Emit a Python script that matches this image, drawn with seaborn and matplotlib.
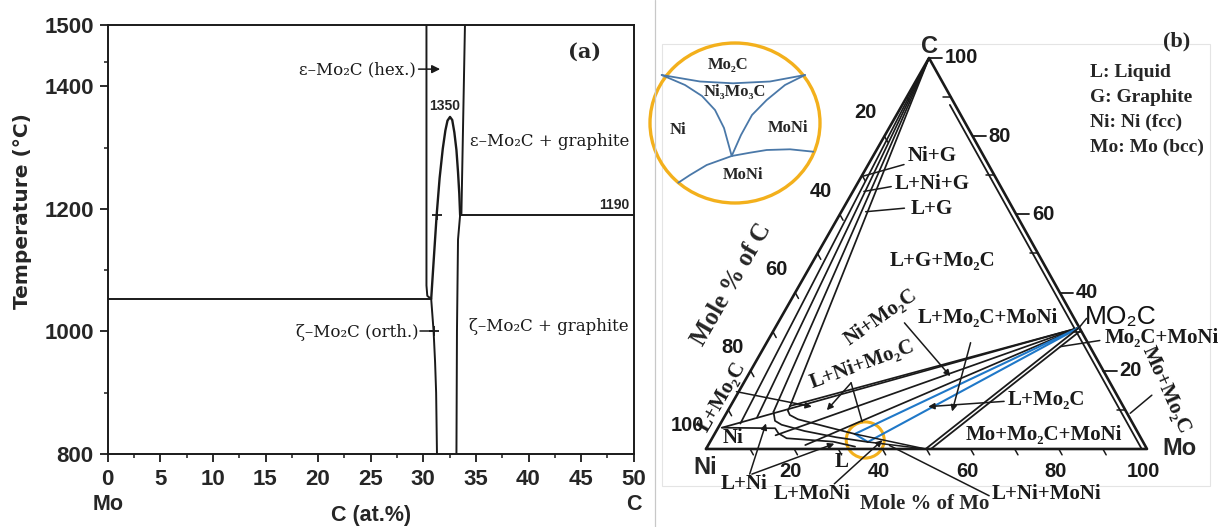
import numpy as np
import matplotlib
matplotlib.use("Agg")
import matplotlib.pyplot as plt
from matplotlib.patches import Ellipse, Rectangle
from matplotlib.lines import Line2D
import seaborn as sns

sns.set_theme(style="white")
plt.rcParams["font.family"] = ["Liberation Sans", "DejaVu Sans"]
plt.rcParams["axes.edgecolor"] = "black"

SANS = ["Liberation Sans", "DejaVu Sans"]
SERIF_A = ["DejaVu Serif"]
SERIF_B = ["Liberation Serif", "DejaVu Serif"]

# ---------------- (a) Mo–C binary section ----------------
C_TICKS = list(range(0, 51, 5))
C_MINOR = [2.5 + 5 * i for i in range(10)]
T_TICKS = [800, 1000, 1200, 1400, 1500]
T_MINOR = [900, 1100, 1300, 1440]

T_EUTECTOID = 1053
T_PERITECTOID = 1190
T_PEAK = 1350

EPS_LEFT_C = [30.3, 30.3, 30.38, 30.75]
EPS_LEFT_T = [1500, 1075, 1058, 1053]
EUTECTOID_C = [0.0, 30.75]
BELL_C = [30.75, 30.95, 31.27, 31.55, 31.85, 32.1, 32.3, 32.54,
          32.75, 32.95, 33.15, 33.3, 33.42, 33.5]
BELL_T = [1053, 1106, 1190, 1250, 1298, 1328, 1344, T_PEAK,
          1345, 1325, 1296, 1260, 1225, 1190]
ZETA_LEFT_C = [30.75, 30.98, 31.12, 31.22, 31.3]
ZETA_LEFT_T = [1053, 1000, 950, 900, 800]
ZETA_RIGHT_C = [33.5, 33.3, 33.2, 33.15]
ZETA_RIGHT_T = [1190, 1150, 1000, 800]
EPS_RIGHT_C = [33.62, 33.96]
EPS_RIGHT_T = [1190, 1500]
PERITECTOID_C = [33.5, 50.0]

# ---------------- (b) Ni–Mo–C isothermal section (mol % Mo, mol % C) ----------------
MO2C_MO, MO2C_C = 68.9, 31.0
MO2C_B_MO, MO2C_B_C = 69.6, 30.2
APEX_TIE_MO = [4.5, 7.5, 10.5, 13.5]
APEX_TIE_C = [6.5, 8.0, 9.5, 11.0]
MO2C_TIE_MO = [13.5, 1.0, 14.0, 22.0]
MO2C_TIE_C = [11.0, 5.5, 3.5, 1.0]
BLUE_TIE_MO = [31.8, 35.8]
BLUE_TIE_C = [3.84, 1.79]
MONI_MO = [49.8, 51.0]
LIQ_UPPER_MO = [13.5, 13.6, 14.6, 17.0, 24.0, 31.8]
LIQ_UPPER_C = [11.0, 9.8, 8.7, 7.6, 5.8, 3.84]
LIQ_LOWER_MO = [10.5, 12.0, 14.0, 20.0, 28.0, 35.8]
LIQ_LOWER_C = [9.5, 7.2, 6.2, 4.6, 3.0, 1.79]
NI_SOLVUS_MO = [0.8, 13.0, 14.4, 16.9, 27.9, 33.5]
NI_SOLVUS_C = [5.45, 5.3, 4.0, 2.74, 1.87, 0.6]
STRIP_NI = 1.2
TERN_MAJOR = [20, 40, 60, 80, 100]
TERN_MINOR = [10, 30, 50, 70, 90]

# enlarged view of the Ni3Mo3C pocket (local units)
INSET_TOP_X = [-73.3, -35, -2, 35, 70]
INSET_TOP_Y = [48, 41.5, 39.7, 41.5, 48]
INSET_LEFT_X = [-73.3, -50, -33, -20, -11, -3.3]
INSET_LEFT_Y = [48, 38, 27, 13, -5, -33]
INSET_RIGHT_X = [70, 50, 31.7, 17, 6, -3.3]
INSET_RIGHT_Y = [48, 38, 23, 8, -12, -33]
INSET_BL_X = [-3.3, -28.3, -45, -56.7]
INSET_BL_Y = [-33, -42, -52, -59.7]
INSET_BR_X = [-3.3, 15, 31.7, 55, 78.3]
INSET_BR_Y = [-33, -29.7, -27, -26.3, -28.7]

BLUE = "#1f78c8"
INSET_BLUE = "#4a78a8"
ORANGE = "#f3b01c"

W, H = 1228, 527
fig = plt.figure(figsize=(W / 100, H / 100), dpi=100)


def axes_px(x0, y0, x1, y1):
    return fig.add_axes([x0 / W, 1 - y1 / H, (x1 - x0) / W, (y1 - y0) / H])


def draw(ax, xs, ys, color="k", lw=1.3, **kw):
    sns.lineplot(x=list(xs), y=list(ys), sort=False, estimator=None, ax=ax,
                 color=color, linewidth=lw, **kw)


# ======================= panel (a) =======================
axA = axes_px(107.7, 25, 633.7, 454)
draw(axA, EPS_LEFT_C, EPS_LEFT_T, lw=1.4)
draw(axA, EUTECTOID_C, [T_EUTECTOID] * 2, lw=1.4)
draw(axA, BELL_C, BELL_T, lw=1.7)
draw(axA, ZETA_LEFT_C, ZETA_LEFT_T, lw=1.4)
draw(axA, ZETA_RIGHT_C, ZETA_RIGHT_T, lw=1.4)
draw(axA, EPS_RIGHT_C, EPS_RIGHT_T, lw=1.4)
draw(axA, PERITECTOID_C, [T_PERITECTOID] * 2, lw=1.4)
axA.plot([BELL_C[2]], [T_PERITECTOID], marker="+", color="k", ms=7, mew=1.3)
axA.plot([ZETA_LEFT_C[1]], [1000], marker="+", color="k", ms=7, mew=1.3)

axA.set_xlim(0, 50)
axA.set_ylim(800, 1500)
axA.set_xticks(C_TICKS)
axA.set_xticks(C_MINOR, minor=True)
axA.set_yticks(T_TICKS)
axA.set_yticks(T_MINOR, minor=True)
axA.set_xlabel("")
axA.set_ylabel("")
axA.tick_params(which="major", direction="out", length=5.5, width=1.3, color="k",
                labelsize=16, bottom=True, left=True)
axA.tick_params(which="minor", direction="out", length=3, width=1.1, color="k",
                bottom=True, left=True)
axA.tick_params(axis="x", which="major", pad=5.5)
axA.tick_params(axis="y", which="major", pad=4.5)
for lab in axA.get_xticklabels() + axA.get_yticklabels():
    lab.set_fontweight("bold")
for s in axA.spines.values():
    s.set_linewidth(1.4)
    s.set_color("k")

txtA = dict(family=SERIF_A, fontsize=12, color="k", va="center")
axA.text(29.3, 1427, "ε–Mo₂C (hex.)", ha="right", **txtA)
axA.annotate("", xy=(31.6, 1428), xytext=(29.55, 1428),
             arrowprops=dict(arrowstyle="-|>", color="k", lw=1.1,
                             mutation_scale=12, shrinkA=0, shrinkB=0))
axA.text(29.55, 998, "ζ–Mo₂C (orth.)", ha="right", **txtA)
draw(axA, [29.65, ZETA_LEFT_C[1]], [1000, 1000], lw=1.1)
axA.text(34.4, 1310, "ε–Mo₂C + graphite", ha="left", **txtA)
axA.text(34.3, 1008, "ζ–Mo₂C + graphite", ha="left", **txtA)
axA.text(45.3, 1457, "(a)", ha="center", va="center", family=SERIF_A,
         fontsize=15, fontweight="bold")
axA.text(32.05, 1368, f"{T_PEAK}", ha="center", va="center", family=SANS,
         fontsize=10, fontweight="bold")
axA.text(49.6, 1206, f"{T_PERITECTOID}", ha="right", va="center", family=SANS,
         fontsize=10, fontweight="bold")

fig.text(107.7 / W, 1 - 505 / H, "Mo", ha="center", va="center", family=SANS,
         fontsize=15.5, fontweight="bold")
fig.text(633.7 / W, 1 - 505 / H, "C", ha="center", va="center", family=SANS,
         fontsize=15.5, fontweight="bold")
fig.text(370.7 / W, 1 - 515 / H, "C (at.%)", ha="center", va="center", family=SANS,
         fontsize=15.5, fontweight="bold")
fig.text(23 / W, 1 - 211.5 / H, "Temperature (°C)", ha="center", va="center",
         rotation=90, family=["DejaVu Sans"], fontsize=14.5, fontweight="bold")

fig.add_artist(Line2D([655 / W, 655 / W], [0, 1], color="#c8c8c8", lw=0.9))

# ======================= panel (b) =======================
APEX_SHIFT = 0.5057
APEX_H = 0.8866


def tern(mo, c):
    mo = np.asarray(mo, dtype=float)
    c = np.asarray(c, dtype=float)
    return mo + c * APEX_SHIFT, c * APEX_H


axT = axes_px(656, 0, 1228, 527)


def tline(mo, c, **kw):
    x, y = tern(mo, c)
    draw(axT, x, y, **kw)


# faint frame
axT.add_patch(Rectangle((-10.0, -8.4), 124.4, 100.3, fill=False, ec="#e4e4e4",
                        lw=0.8, clip_on=False))

# outline and the narrow Mo+Mo2C strip along the Mo–C edge
tline([0, 100, 0, 0], [0, 0, 100, 0], lw=1.9)
tline([100 - STRIP_NI - 88, 100 - STRIP_NI], [88, 0], lw=1.3)

# tie lines from graphite
for mo, c in zip(APEX_TIE_MO, APEX_TIE_C):
    tline([0, mo], [100, c], lw=1.25)
# tie lines from Mo2C
for mo, c in zip(MO2C_TIE_MO, MO2C_TIE_C):
    tline([MO2C_MO, mo], [MO2C_C, c], lw=1.25)
for mo, c in zip(BLUE_TIE_MO, BLUE_TIE_C):
    tline([MO2C_MO, mo], [MO2C_C, c], color=BLUE, lw=1.5)
tline(BLUE_TIE_MO, BLUE_TIE_C, color=BLUE, lw=1.5)
tline([MO2C_MO, MONI_MO[0]], [MO2C_C, 0], lw=1.3)
tline([MO2C_B_MO, MONI_MO[1]], [MO2C_B_C, 0], lw=1.3)
tline([BLUE_TIE_MO[0], MONI_MO[0]], [BLUE_TIE_C[0], 0], lw=1.1)
tline([BLUE_TIE_MO[1], MONI_MO[0]], [BLUE_TIE_C[1], 0], lw=1.1)

# phase boundaries near the Ni–Mo side
tline(LIQ_UPPER_MO, LIQ_UPPER_C, lw=1.25)
tline(LIQ_LOWER_MO, LIQ_LOWER_C, lw=1.25)
tline(NI_SOLVUS_MO, NI_SOLVUS_C, lw=1.25)

# axis ticks
for v in range(10, 100, 10):
    tline([0, 1.5], [v, v - 1.5], lw=1.1)          # left edge
for v in TERN_MAJOR:
    x, y = tern(100 - v, v)
    draw(axT, [x, x + 3.0], [y, y], lw=1.3)        # right edge
for v in TERN_MINOR:
    x, y = tern(100 - v, v)
    draw(axT, [x, x - 1.8], [y, y], lw=1.1)
for v in range(10, 100, 10):
    tline([v, v + 1.5], [0, -1.5], lw=1.1)         # bottom edge

num = dict(family=SANS, fontsize=14.5, fontweight="bold", color="k")
for v in TERN_MAJOR:
    x, y = tern(0, 100 - v)
    axT.text(x - 4.2, y + 5.3, str(v), ha="center", va="center", **num)
    x, y = tern(100 - v, v)
    axT.text(x + 3.6, y, str(v), ha="left", va="center", **num)
    x, y = tern(v, 0)
    axT.text(x - 0.8, y - 5.2, str(v), ha="center", va="center", **num)

axT.text(50.57, 91.2, "C", ha="center", va="center", family=SANS, fontsize=17,
         fontweight="bold")
axT.text(-0.16, -4.13, "Ni", ha="center", va="center", family=SANS, fontsize=17,
         fontweight="bold")
axT.text(107.3, 0.1, "Mo", ha="center", va="center", family=SANS, fontsize=17,
         fontweight="bold")
axT.text(106.8, 92.3, "(b)", ha="center", va="center", family=SERIF_B,
         fontsize=16, fontweight="bold")
for i, s in enumerate(["L: Liquid", "G: Graphite", "Ni: Ni (fcc)", "Mo: Mo (bcc)"]):
    axT.text(87.1, 85.4 - 5.7 * i, s, ha="left", va="center", family=SERIF_B,
             fontsize=14, fontweight="bold")

axT.text(49.6, -12.5, "Mole % of Mo", ha="center", va="center", family=SERIF_B,
         fontsize=15, fontweight="bold")
axT.text(5.7, 37.4, "Mole % of C", ha="center", va="center", rotation=60,
         family=SERIF_B, fontsize=18, fontweight="bold")
axT.text(85.9, 30.0, "MO₂C", ha="left", va="center", family=SANS, fontsize=19,
         color="#111111")

reg = dict(family=SERIF_B, fontsize=15, fontweight="bold", color="k",
           va="center")
labels = [
    (53.7, 42.7, "L+G+Mo₂C", 0, "center"),
    (51.2, 66.4, "Ni+G", 0, "center"),
    (51.2, 60.1, "L+Ni+G", 0, "center"),
    (51.2, 54.4, "L+G", 0, "center"),
    (39.6, 29.8, "Ni+Mo₂C", 35, "center"),
    (63.8, 29.8, "L+Mo₂C+MoNi", 0, "center"),
    (35.4, 19.1, "L+Ni+Mo₂C", 20, "center"),
    (3.6, 11.9, "L+Mo₂C", 60, "center"),
    (6.1, 2.4, "Ni", 0, "center"),
    (77.1, 11.1, "L+Mo₂C", 0, "center"),
    (76.7, 3.1, "Mo+Mo₂C+MoNi", 0, "center"),
    (8.6, -7.9, "L+Ni", 0, "center"),
    (24.0, -10.2, "L+MoNi", 0, "center"),
    (30.8, -3.0, "L", 0, "center"),
    (77.1, -10.2, "L+Ni+MoNi", 0, "center"),
    (90.5, 25.2, "Mo₂C+MoNi", 0, "left"),
    (104.3, 13.4, "Mo+Mo₂C", -66, "center"),
]
for x, y, s, rot, ha in labels:
    axT.text(x, y, s, rotation=rot, ha=ha, **reg)


def leader(start, end, arrow=False):
    axT.annotate("", xy=end, xytext=start,
                 arrowprops=dict(arrowstyle="-|>" if arrow else "-", color="k",
                                 lw=1.1, mutation_scale=9, shrinkA=0, shrinkB=0))


leader((44.9, 64.5), (35.4, 61.8))
leader((42.0, 59.5), (35.8, 58.4))
leader((45.0, 54.6), (36.2, 53.8))
leader((45.0, 28.6), (55.4, 16.5), True)
leader((60.0, 24.1), (55.8, 8.5), True)
leader((32.9, 15.0), (27.4, 8.8), True)
leader((32.9, 15.0), (35.4, 6.2))
leader((6.9, 13.0), (24.0, 9.6), True)
leader((67.6, 10.8), (50.4, 9.6), True)
leader((9.9, -5.7), (13.6, 5.8), True)
leader((10.4, -5.7), (29.1, 1.2), True)
leader((29.1, -7.9), (40.0, 2.0), True)
leader((64.2, -10.6), (41.6, 0.8))
leader((89.3, 24.6), (80.3, 23.2))
leader(tuple(np.array(tern(MO2C_MO, MO2C_C))), (86.3, 29.6))
leader((96.2, 8.1), (101.1, 12.2))

cx, cy = tern(36.0, 0.2)
axT.add_patch(Ellipse((float(cx), 2.04), 8.6, 8.2, fill=False, ec=ORANGE, lw=2.2))

axT.set_xlim(-11.34, 118.37)
axT.set_ylim(-17.69, 101.81)
axT.axis("off")

# enlarged pocket
axI = axes_px(640, 35, 830, 215)
axI.add_patch(Ellipse((0, 0), 170, 160, fill=False, ec=ORANGE, lw=2.4, clip_on=False))
for xs, ys in [(INSET_TOP_X, INSET_TOP_Y), (INSET_LEFT_X, INSET_LEFT_Y),
               (INSET_RIGHT_X, INSET_RIGHT_Y), (INSET_BL_X, INSET_BL_Y),
               (INSET_BR_X, INSET_BR_Y)]:
    draw(axI, xs, ys, color=INSET_BLUE, lw=1.3)
ins = dict(family=SERIF_B, fontsize=12, fontweight="bold", ha="center", va="center")
axI.text(-6.7, 58, "Mo₂C", **ins)
axI.text(0, 31.3, "Ni₃Mo₃C", **ins)
axI.text(-56.7, -7, "Ni", **ins)
axI.text(53.3, -5.3, "MoNi", **ins)
axI.text(8.3, -52, "MoNi", **ins)
axI.set_xlim(-95, 95)
axI.set_ylim(-92, 88)
axI.axis("off")

fig.savefig("out.png", dpi=100)
